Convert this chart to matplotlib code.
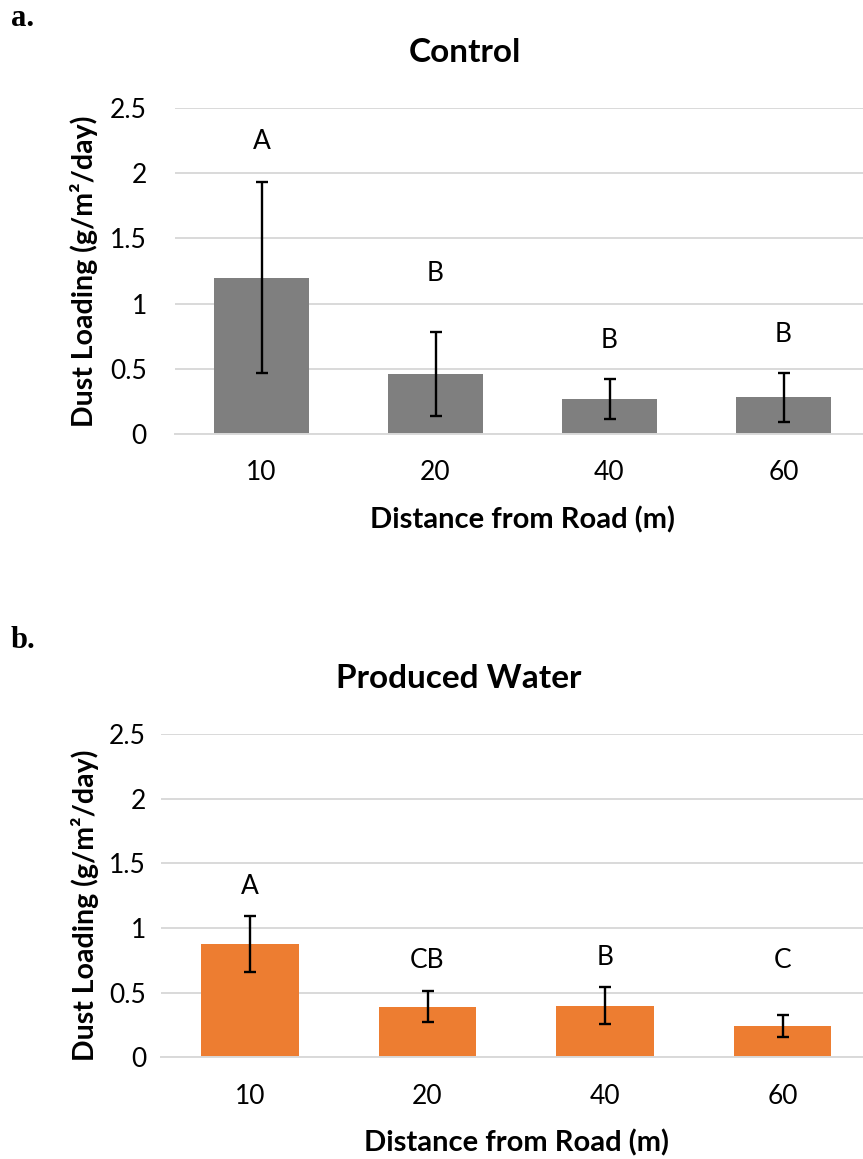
import matplotlib.pyplot as plt
import numpy as np

plt.rcParams['font.family'] = ['Lato', 'DejaVu Sans']

# data
distances = ['10', '20', '40', '60']

control_mean = [1.20, 0.46, 0.27, 0.28]
control_err = [0.73, 0.32, 0.155, 0.19]
control_letters = ['A', 'B', 'B', 'B']
control_letter_y = [2.24, 1.23, 0.72, 0.76]

pw_mean = [0.875, 0.39, 0.40, 0.243]
pw_err = [0.215, 0.12, 0.145, 0.083]
pw_letters = ['A', 'CB', 'B', 'C']
pw_letter_y = [1.32, 0.75, 0.77, 0.75]

yticks = [0, 0.5, 1, 1.5, 2, 2.5]
ytick_labels = ['0', '0.5', '1', '1.5', '2', '2.5']

W, H = 863, 1159
fig = plt.figure(figsize=(W / 100, H / 100), dpi=100)


def draw_panel(rect, means, errs, letters, letter_y, color, title, title_xy,
               tag, tag_xy, ytick_pad):
    ax = fig.add_axes(rect)
    x = np.arange(len(distances))
    ax.bar(x, means, width=0.55, color=color, zorder=2)
    ax.errorbar(x, means, yerr=errs, fmt='none', ecolor='black',
                elinewidth=1.7, capsize=4.5, capthick=1.7, zorder=3)
    for xi, lab, ly in zip(x, letters, letter_y):
        ax.text(xi, ly, lab, ha='center', va='center', fontsize=19)

    ax.set_xlim(-0.5, len(distances) - 0.5)
    ax.set_ylim(0, 2.5)
    ax.set_xticks(x)
    ax.set_xticklabels(distances, fontsize=19)
    ax.set_yticks(yticks)
    ax.set_yticklabels(ytick_labels, fontsize=19)
    ax.tick_params(axis='both', length=0)
    ax.tick_params(axis='x', pad=19)
    ax.tick_params(axis='y', pad=ytick_pad)
    ax.grid(axis='y', color='#d9d9d9', linewidth=1.4, zorder=0)
    ax.set_axisbelow(True)
    for s in ['top', 'right', 'left']:
        ax.spines[s].set_visible(False)
    ax.spines['bottom'].set_color('#d9d9d9')
    ax.spines['bottom'].set_linewidth(1.4)

    ax.set_xlabel('Distance from Road (m)', fontsize=21, fontweight='bold',
                  labelpad=15)
    ax.set_ylabel('Dust Loading (g/m²/day)', fontsize=20.5, fontweight='bold')

    fig.text(title_xy[0] / W, 1 - title_xy[1] / H, title, ha='center',
             va='center', fontsize=24, fontweight='bold')
    fig.text(tag_xy[0] / W, 1 - tag_xy[1] / H, tag, ha='left', va='center',
             fontsize=22, fontweight='bold', family='Liberation Serif')
    return ax


ax1 = draw_panel([174.5 / W, 1 - 434 / H, 696 / W, 326 / H],
                 control_mean, control_err, control_letters, control_letter_y,
                 '#7f7f7f', 'Control', (465, 52), 'a.', (11, 18), 20)
ax1.yaxis.set_label_coords((98 - 174.5) / 696, 0.5)

ax2 = draw_panel([161.3 / W, 1 - 1057.3 / H, 710 / W, 323.3 / H],
                 pw_mean, pw_err, pw_letters, pw_letter_y,
                 '#ed7d31', 'Produced Water', (459, 678), 'b.', (11, 640), 11)
ax2.yaxis.set_label_coords((99 - 161.3) / 710, 0.47)

fig.savefig('out.png', dpi=100)
